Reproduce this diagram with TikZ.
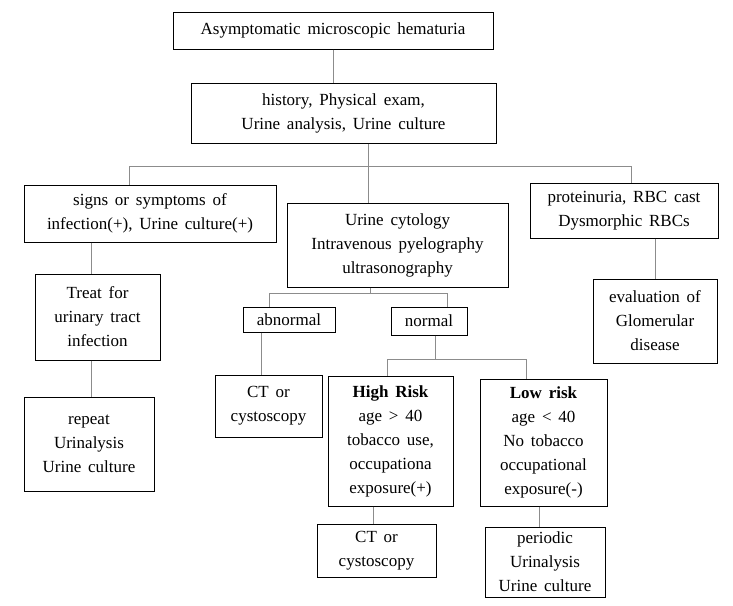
\documentclass[tikz,border=0pt]{standalone}
\usepackage{fontspec}
\setmainfont{Liberation Serif}[WordSpace=1.6]
\definecolor{conncol}{RGB}{140,140,140}
\begin{document}
\begin{tikzpicture}[x=1pt,y=-1pt,
  box/.style={draw=black,line width=1pt,fill=white,align=center,inner sep=0pt,
    font=\fontsize{17}{24}\selectfont},
  conn/.style={draw=conncol,line width=1pt}]
\useasboundingbox (0,0) rectangle (733,605);
\node[box,minimum width=320pt,minimum height=37pt] (top) at (333,30.5) {Asymptomatic microscopic hematuria};
\node[box,minimum width=305pt,minimum height=60pt] (hist) at (343.5,113) {history, Physical exam,\\Urine analysis, Urine culture};
\node[box,minimum width=252pt,minimum height=57pt] (sign) at (150,213.5) {signs or symptoms of\\infection(+), Urine culture(+)};
\node[box,minimum width=221pt,minimum height=84pt] (cyto) at (397.5,245) {Urine cytology\\Intravenous pyelography\\ultrasonography};
\node[box,minimum width=188pt,minimum height=55pt] (prot) at (624,210.5) {proteinuria, RBC cast\\Dysmorphic RBCs};
\node[box,minimum width=125pt,minimum height=86pt] (treat) at (97.5,317) {Treat for\\urinary tract\\infection};
\node[box,minimum width=124pt,minimum height=84pt] (eval) at (655,321) {evaluation of\\Glomerular\\disease};
\node[box,minimum width=130pt,minimum height=94pt] (rep) at (89,444) {repeat\\Urinalysis\\Urine culture};
\node[box,minimum width=92pt,minimum height=25pt] (abn) at (289,319.5) {abnormal};
\node[box,minimum width=76pt,minimum height=28pt] (norm) at (429,321) {normal};
\node[box,minimum width=107pt,minimum height=62pt] (ctone) at (268.5,406) {CT or\\cystoscopy};
\node[box,minimum width=125pt,minimum height=130pt] (high) at (390.5,441) {\textbf{High Risk}\\age > 40\\tobacco use,\\occupationa\\exposure(+)};
\node[box,minimum width=127pt,minimum height=127pt] (low) at (543.5,442.5) {\textbf{Low risk}\\age < 40\\No tobacco\\occupational\\exposure(-)};
\node[box,minimum width=119pt,minimum height=53pt] (cttwo) at (376.5,550.5) {CT or\\cystoscopy};
\node[box,minimum width=120pt,minimum height=70pt] (per) at (545,562) {periodic\\Urinalysis\\Urine culture};
% junction coordinates
\coordinate (busC) at (368,166);
\coordinate (busL) at (129,166);
\coordinate (busR) at (631,166);
\coordinate (lx) at (91,0);
\coordinate (cj) at (370,293);
\coordinate (cjL) at (269,293);
\coordinate (cjR) at (447,293);
\coordinate (ax) at (261,0);
\coordinate (nj) at (435,359);
\coordinate (njL) at (387,359);
\coordinate (njR) at (526,359);
\coordinate (hx) at (373,0);
\coordinate (lwx) at (539,0);
\begin{scope}[on background layer/.style={}]
\draw[conn] (top.south) -- (top.south |- hist.north);
\draw[conn] (busC |- hist.south) -- (busC |- cyto.north);
\draw[conn] (busL |- sign.north) -- (busL) -- (busR) -- (busR |- prot.north);
\draw[conn] (lx |- sign.south) -- (lx |- treat.north);
\draw[conn] (lx |- treat.south) -- (lx |- rep.north);
\draw[conn] (eval.north |- prot.south) -- (eval.north);
\draw[conn] (cj |- cyto.south) -- (cj);
\draw[conn] (cjL |- abn.north) -- (cjL) -- (cjR) -- (cjR |- norm.north);
\draw[conn] (ax |- abn.south) -- (ax |- ctone.north);
\draw[conn] (nj |- norm.south) -- (nj);
\draw[conn] (njL |- high.north) -- (njL) -- (njR) -- (njR |- low.north);
\draw[conn] (hx |- high.south) -- (hx |- cttwo.north);
\draw[conn] (lwx |- low.south) -- (lwx |- per.north);
\end{scope}
\end{tikzpicture}
\end{document}
